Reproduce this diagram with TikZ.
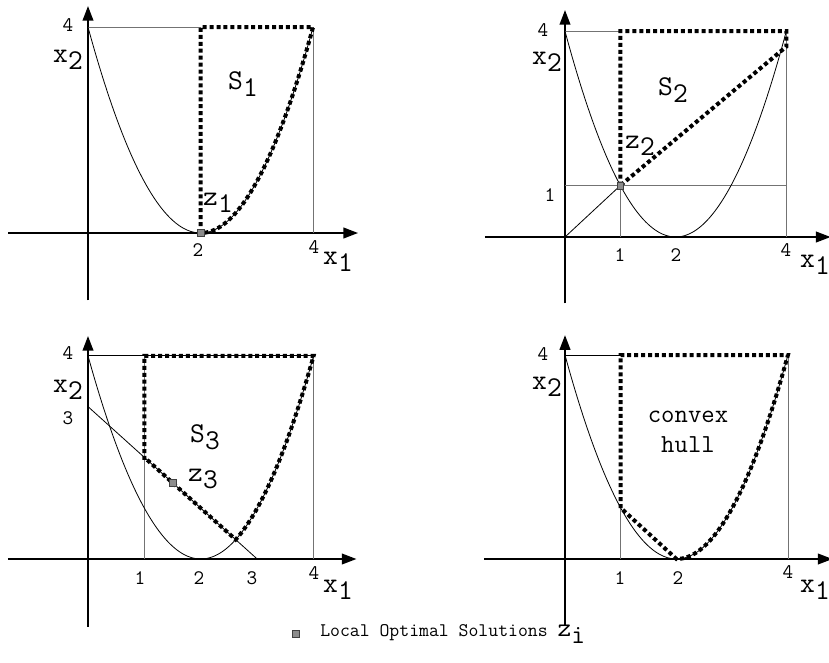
\documentclass[tikz,border=0pt]{standalone}
\usepackage{fontspec}
\usetikzlibrary{arrows.meta}
\newcommand{\lbl}[2]{#1\raisebox{-0.25em}{#2}}
\tikzset{
  axis/.style={line width=1.4pt, -{Triangle[length=11pt,width=8pt]}},
  helper/.style={draw=black!55, line width=0.6pt},
  curve/.style={draw=black, line width=0.6pt},
  bound/.style={draw=black, line width=3pt, dash pattern=on 3pt off 2.2pt, line join=miter},
  ticklbl/.style={font=\ttfamily\fontsize{15.5}{17}\selectfont, inner sep=0pt},
  biglbl/.style={font=\ttfamily\fontsize{21.5}{24}\selectfont, inner sep=0pt},
  opt/.style={draw=black!75, fill=black!45, line width=0.4pt, minimum size=5pt, inner sep=0pt}
}
\begin{document}
\begin{tikzpicture}[x=0.75pt,y=-0.75pt]
\useasboundingbox (0,0) rectangle (829,662);

% ---------- Panel 1 ----------
\begin{scope}[shift={(88,233)}, x={(42.2pt,0pt)}, y={(0pt,38.6pt)}]
  \coordinate (a1w) at (-1.42,0); \coordinate (a1e) at (4.8,0);
  \coordinate (a1s) at (0,-1.31); \coordinate (a1n) at (0,4.41);
  \draw[axis] (a1w) -- (a1e);
  \draw[axis] (a1s) -- (a1n);
  \coordinate (p1a) at (0,4); \coordinate (p1b) at (2,4);
  \coordinate (p1c) at (4,0); \coordinate (p1d) at (4,4);
  \draw[helper] (p1a) -- (p1b);
  \draw[helper] (p1c) -- (p1d);
  \draw[curve] plot[domain=0:4, samples=60, smooth] (\x,{(\x-2)^2});
  \draw[bound] (2,0) -- (2,4) -- (4,4) -- plot[domain=4:2, samples=40, smooth] (\x,{(\x-2)^2});
  \node[opt] (z1pt) at (2,0) {};
\end{scope}
\node[ticklbl] (p1y4) at (68,25) {4};
\node[biglbl] (p1x2) at (68,60) {\lbl{x}{2}};
\node[ticklbl] (p1t2) at (198,250) {2};
\node[ticklbl] (p1t4) at (314,247) {4};
\node[biglbl] (p1x1) at (338,262) {\lbl{x}{1}};
\node[biglbl] (p1S) at (243,84) {\lbl{S}{1}};
\node[biglbl] (p1z) at (218,203) {\lbl{z}{1}};

% ---------- Panel 2 ----------
\begin{scope}[shift={(565,237)}, x={(41.5pt,0pt)}, y={(0pt,38.6pt)}]
  \coordinate (a2w) at (-1.45,0); \coordinate (a2e) at (4.8,0);
  \coordinate (a2s) at (0,-1.29); \coordinate (a2n) at (0,4.41);
  \draw[axis] (a2w) -- (a2e);
  \draw[axis] (a2s) -- (a2n);
  \coordinate (o2) at (0,0); \coordinate (q2) at (1,1);
  \coordinate (q2b) at (1,0); \coordinate (q2l) at (0,1); \coordinate (q2r) at (4,1);
  \coordinate (q2a) at (0,4); \coordinate (q2t) at (1,4);
  \coordinate (q2c) at (4,0); \coordinate (q2d) at (4,4);
  \draw[curve] (o2) -- (q2);
  \draw[helper] (q2b) -- (q2);
  \draw[helper] (q2l) -- (q2r);
  \draw[helper] (q2a) -- (q2t);
  \draw[helper] (q2c) -- (q2d);
  \draw[curve] plot[domain=0:4, samples=60, smooth] (\x,{(\x-2)^2});
  \draw[bound] (1,1) -- (1,4) -- (4,4) -- (4,3.7) -- cycle;
  \node[opt] (z2pt) at (1,1) {};
\end{scope}
\node[ticklbl] (p2y4) at (543,30) {4};
\node[biglbl] (p2x2) at (547,62) {\lbl{x}{2}};
\node[ticklbl] (p2y1) at (550,195) {1};
\node[ticklbl] (p2t1) at (620,255) {1};
\node[ticklbl] (p2t2) at (676,255) {2};
\node[ticklbl] (p2t4) at (786,250) {4};
\node[biglbl] (p2x1) at (815,265) {\lbl{x}{1}};
\node[biglbl] (p2S) at (673,90) {\lbl{S}{2}};
\node[biglbl] (p2z) at (640,146) {\lbl{z}{2}};

% ---------- Panel 3 ----------
\begin{scope}[shift={(88,559)}, x={(42.3pt,0pt)}, y={(0pt,38.1pt)}]
  \coordinate (a3w) at (-1.42,0); \coordinate (a3e) at (4.76,0);
  \coordinate (a3s) at (0,-1.33); \coordinate (a3n) at (0,4.39);
  \draw[axis] (a3w) -- (a3e);
  \draw[axis] (a3s) -- (a3n);
  \coordinate (l3a) at (0,3); \coordinate (l3b) at (3,0);
  \coordinate (v3a) at (1,0); \coordinate (v3b) at (1,4);
  \coordinate (h3a) at (0,4); \coordinate (h3b) at (4,4);
  \coordinate (r3a) at (4,0);
  \draw[curve] (l3a) -- (l3b);
  \draw[helper] (v3a) -- (v3b);
  \draw[curve] (h3a) -- (h3b);
  \draw[helper] (r3a) -- (h3b);
  \draw[curve] plot[domain=0:4, samples=60, smooth] (\x,{(\x-2)^2});
  \draw[bound] (1,1.95) -- (1,4) -- (4,4) -- plot[domain=4:2.618, samples=40, smooth] (\x,{(\x-2)^2}) -- (1,2);
  \node[opt] (z3pt) at (1.5,1.5) {};
\end{scope}
\node[ticklbl] (p3y4) at (68,353) {4};
\node[biglbl] (p3x2) at (68,390) {\lbl{x}{2}};
\node[ticklbl] (p3y3) at (68,418) {3};
\node[ticklbl] (p3t1) at (140,578) {1};
\node[ticklbl] (p3t2) at (199,578) {2};
\node[ticklbl] (p3t3) at (252,578) {3};
\node[ticklbl] (p3t4) at (314,573) {4};
\node[biglbl] (p3x1) at (338,590) {\lbl{x}{1}};
\node[biglbl] (p3S) at (205,437) {\lbl{S}{3}};
\node[biglbl] (p3z) at (203,479) {\lbl{z}{3}};

% ---------- Panel 4 ----------
\begin{scope}[shift={(565,559)}, x={(41.8pt,0pt)}, y={(0pt,38.25pt)}]
  \coordinate (a4w) at (-1.45,0); \coordinate (a4e) at (4.8,0);
  \coordinate (a4s) at (0,-1.29); \coordinate (a4n) at (0,4.39);
  \draw[axis] (a4w) -- (a4e);
  \draw[axis] (a4s) -- (a4n);
  \coordinate (v4a) at (1,0); \coordinate (v4b) at (1,1);
  \coordinate (h4a) at (0,4); \coordinate (h4b) at (1,4);
  \coordinate (r4a) at (4,0); \coordinate (r4b) at (4,4);
  \draw[helper] (v4a) -- (v4b);
  \draw[curve] (h4a) -- (h4b);
  \draw[helper] (r4a) -- (r4b);
  \draw[curve] plot[domain=0:4, samples=60, smooth] (\x,{(\x-2)^2});
  \draw[bound] (1,1) -- (1,4) -- (4,4) -- plot[domain=4:2, samples=40, smooth] (\x,{(\x-2)^2}) -- cycle;
\end{scope}
\node[ticklbl] (p4y4) at (543,354) {4};
\node[biglbl] (p4x2) at (547,387) {\lbl{x}{2}};
\node[ticklbl] (p4t1) at (620,578) {1};
\node[ticklbl] (p4t2) at (678,578) {2};
\node[ticklbl] (p4t4) at (788,572) {4};
\node[biglbl] (p4x1) at (815,590) {\lbl{x}{1}};
\node[font=\ttfamily\fontsize{19.5}{22}\selectfont, inner sep=0pt, align=center] (p4hull) at (688,432) {convex\\[0pt]hull};

% ---------- Legend ----------
\node[opt] (legsq) at (296,634) {};
\node[anchor=west, inner sep=0pt, font=\ttfamily\fontsize{14.4}{16}\selectfont] (legtxt) at (320,634)
  {Local Optimal Solutions {\fontsize{20}{22}\selectfont\lbl{z}{i}}};
\end{tikzpicture}
\end{document}
